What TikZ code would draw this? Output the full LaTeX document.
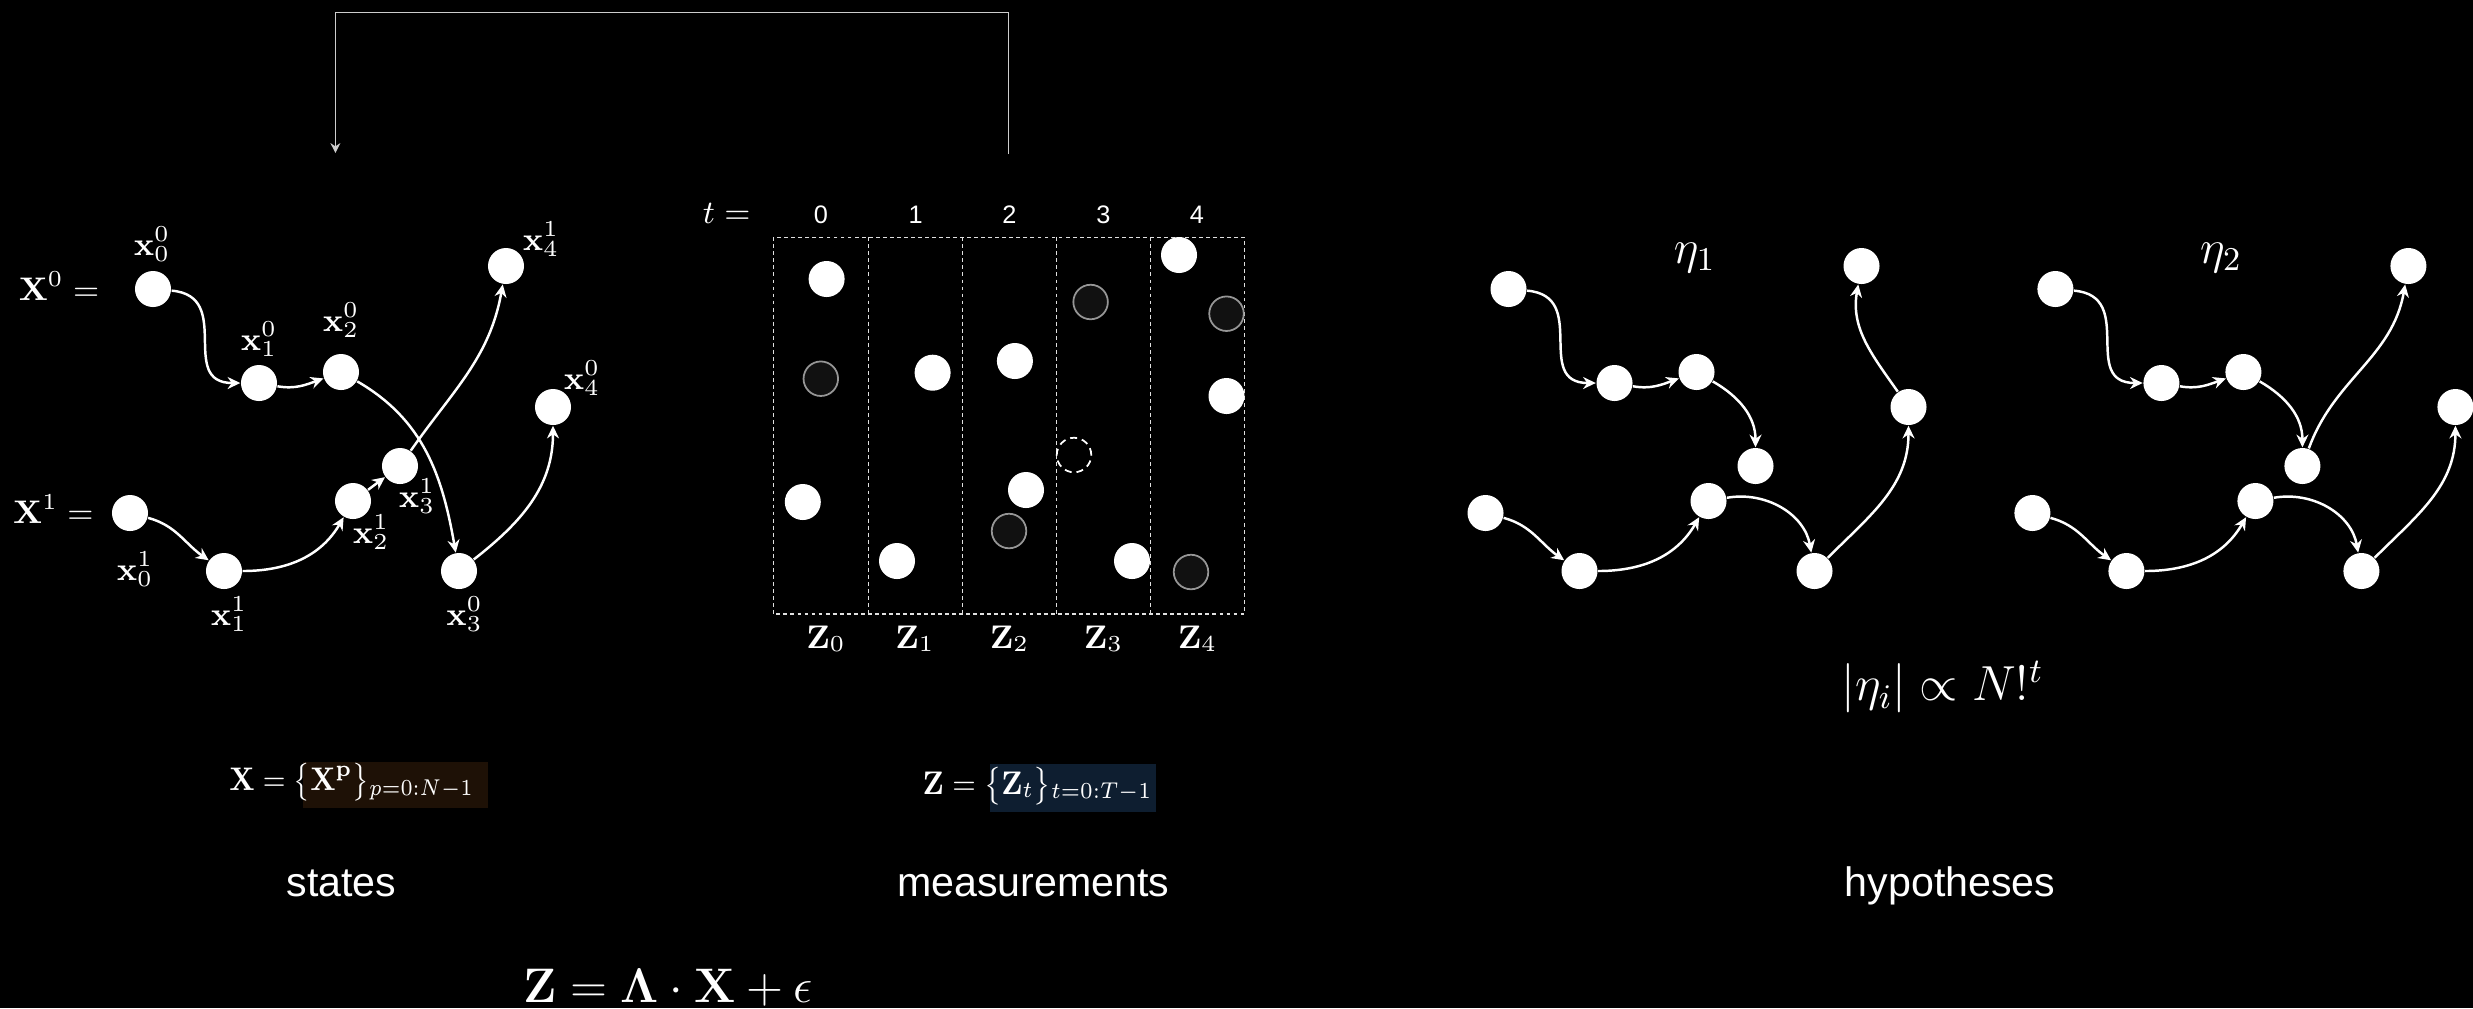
\RequirePackage{fix-cm}
\documentclass[tikz,border=0pt]{standalone}
\usepackage{amsmath}
\usepackage[no-math]{fontspec}
\setsansfont{Liberation Sans}
\usepackage{graphicx}
\usetikzlibrary{arrows.meta}
\definecolor{brownbg}{RGB}{30,17,6}
\definecolor{navybg}{RGB}{14,30,48}
\definecolor{fbline}{RGB}{205,205,205}
\definecolor{ghostfill}{RGB}{17,17,17}
\definecolor{ghostdraw}{RGB}{150,150,150}
\begin{document}
\begin{tikzpicture}[x=0.01cm,y=0.01cm,
  dot/.style={circle,fill=white,inner sep=0pt,minimum size=0.36cm},
  ghost/.style={circle,fill=ghostfill,draw=ghostdraw,line width=0.5pt,inner sep=0pt,minimum size=0.345cm},
  missing/.style={circle,draw=white,dash pattern=on 2pt off 1.4pt,line width=0.5pt,inner sep=0pt,minimum size=0.345cm},
  trk/.style={draw=white,line width=0.7pt,-{Stealth[length=3.6pt,width=3.4pt]}},
  fb/.style={draw=fbline,line width=0.4pt,-{Stealth[length=2.8pt,width=2.8pt]}},
  dashbox/.style={draw=white!88!black,line width=0.35pt,dash pattern=on 1.1pt off 0.9pt},
  lbl/.style={text=white,inner sep=0pt,font=\fontsize{9.3pt}{11pt}\selectfont},
  dig/.style={text=white,inner sep=0pt,font=\sffamily\fontsize{7.2pt}{9pt}\selectfont},
  word/.style={text=white,inner sep=0pt,font=\sffamily\fontsize{11.7pt}{14pt}\selectfont},
  eq/.style={text=white,inner sep=0pt,font=\fontsize{9.3pt}{12pt}\selectfont},
  bigeq/.style={text=white,inner sep=0pt,font=\fontsize{13.8pt}{16pt}\selectfont},
  etalbl/.style={text=white,inner sep=0pt,font=\fontsize{13.5pt}{16pt}\selectfont}
]
\fill[black] (0,0) rectangle (2473,-1008);
\useasboundingbox (0,0) rectangle (2473,-1008);

% ---------- feedback connector ----------
\coordinate (fbS) at (1008.7,-154);
\coordinate (fbE) at (335.4,-153);
\draw[fb] (fbS) -- ++(0,141.3) -| (fbE);

% ---------- states graph ----------
\node[lbl,anchor=base] (X0) at (59,-300) {$\mathbf{X}^0 =$};
\node[lbl,anchor=base] (X1) at (53.4,-523.3) {$\mathbf{X}^1 =$};

\node[dot] (a0) at (153,-289) {};
\node[dot] (a1) at (259,-383) {};
\node[dot] (a2) at (341,-372) {};
\node[dot] (a3) at (459,-571) {};
\node[dot] (a4) at (553,-407) {};
\node[dot] (b0) at (130,-513) {};
\node[dot] (b1) at (224,-571) {};
\node[dot] (b2) at (353,-501) {};
\node[dot] (b3) at (400,-466) {};
\node[dot] (b4) at (506,-266) {};

\node[lbl] (la0) at (152,-244) {$\mathbf{x}_0^0$};
\node[lbl] (la1) at (259,-339) {$\mathbf{x}_1^0$};
\node[lbl] (la2) at (341,-320) {$\mathbf{x}_2^0$};
\node[lbl] (la3) at (464.5,-614) {$\mathbf{x}_3^0$};
\node[lbl] (la4) at (582,-378) {$\mathbf{x}_4^0$};
\node[lbl] (lb0) at (135,-569) {$\mathbf{x}_0^1$};
\node[lbl] (lb1) at (229,-614) {$\mathbf{x}_1^1$};
\node[lbl] (lb2) at (371,-532.5) {$\mathbf{x}_2^1$};
\node[lbl] (lb3) at (417,-496.5) {$\mathbf{x}_3^1$};
\node[lbl] (lb4) at (541,-239) {$\mathbf{x}_4^1$};

\draw[trk] (a0) to[out=-5,in=180,looseness=1.4] (a1);
\draw[trk] (a1) to[out=-10,in=200] (a2);
\draw[trk] (a2) to[out=-30,in=100] (a3);
\draw[trk] (a3) to[out=38,in=-90] (a4);
\draw[trk] (b0) to[out=-15,in=145] (b1);
\draw[trk] (b1) to[out=0,in=-120] (b2);
\draw[trk] (b2) -- (b3);
\draw[trk] (b3) to[out=55,in=-100] (b4);

% ---------- measurements ----------
\node[lbl,anchor=base] (teq) at (726.7,-223) {$t =$};
\node[dig,anchor=base] (d0) at (821,-223.3) {0};
\node[dig,anchor=base] (d1) at (915.6,-223.3) {1};
\node[dig,anchor=base] (d2) at (1009.5,-223.3) {2};
\node[dig,anchor=base] (d3) at (1103.5,-223.3) {3};
\node[dig,anchor=base] (d4) at (1197,-223.3) {4};

\draw[dashbox] (773.3,-237.3) rectangle (1244.5,-614);
\foreach \xx in {868.3,962.7,1056.7,1150.7}
  \draw[dashbox] (\xx,-237.3) -- (\xx,-614);

\node[lbl,anchor=base] (z0) at (826,-648) {$\mathbf{Z}_0$};
\node[lbl,anchor=base] (z1) at (915,-648) {$\mathbf{Z}_1$};
\node[lbl,anchor=base] (z2) at (1009.5,-648) {$\mathbf{Z}_2$};
\node[lbl,anchor=base] (z3) at (1103.5,-648) {$\mathbf{Z}_3$};
\node[lbl,anchor=base] (z4) at (1197.5,-648) {$\mathbf{Z}_4$};

\node[dot] (m1) at (826.6,-279) {};
\node[ghost] (m2) at (820.8,-378.7) {};
\node[dot] (m3) at (802.8,-502) {};
\node[dot] (m4) at (932.6,-372.7) {};
\node[dot] (m5) at (897,-561) {};
\node[dot] (m6) at (1014.9,-361) {};
\node[dot] (m7) at (1026,-490) {};
\node[ghost] (m8) at (1009,-531) {};
\node[ghost] (m9) at (1090.6,-302) {};
\node[missing] (m10) at (1074,-455) {};
\node[dot] (m11) at (1132,-561) {};
\node[dot] (m12) at (1179,-255) {};
\node[ghost] (m13) at (1226.5,-313.7) {};
\node[dot] (m14) at (1226.5,-396) {};
\node[ghost] (m15) at (1191,-572) {};

% ---------- hypotheses ----------
\node[etalbl,anchor=base] (eta1) at (1694.7,-263) {$\eta_1$};
\node[etalbl,anchor=base] (eta2) at (2221,-263) {$\eta_2$};

\begin{scope}[shift={(1355.5,0)}]
\node[dot] (h1a0) at (153,-289) {};
\node[dot] (h1a1) at (259,-383) {};
\node[dot] (h1a2) at (341,-372) {};
\node[dot] (h1a3) at (459,-571) {};
\node[dot] (h1a4) at (553,-407) {};
\node[dot] (h1b0) at (130,-513) {};
\node[dot] (h1b1) at (224,-571) {};
\node[dot] (h1b2) at (353,-501) {};
\node[dot] (h1b3) at (400,-466) {};
\node[dot] (h1b4) at (506,-266) {};
\end{scope}
\draw[trk] (h1a0) to[out=-5,in=180,looseness=1.4] (h1a1);
\draw[trk] (h1a1) to[out=-10,in=200] (h1a2);
\draw[trk] (h1a2) to[out=-30,in=90] (h1b3);
\draw[trk] (h1b0) to[out=-15,in=145] (h1b1);
\draw[trk] (h1b1) to[out=0,in=-120] (h1b2);
\draw[trk] (h1b2) to[out=10,in=100] (h1a3);
\draw[trk] (h1a3) to[out=45,in=-90] (h1a4);
\draw[trk] (h1a4) to[out=125,in=-100] (h1b4);

\begin{scope}[shift={(1902.4,0)}]
\node[dot] (h2a0) at (153,-289) {};
\node[dot] (h2a1) at (259,-383) {};
\node[dot] (h2a2) at (341,-372) {};
\node[dot] (h2a3) at (459,-571) {};
\node[dot] (h2a4) at (553,-407) {};
\node[dot] (h2b0) at (130,-513) {};
\node[dot] (h2b1) at (224,-571) {};
\node[dot] (h2b2) at (353,-501) {};
\node[dot] (h2b3) at (400,-466) {};
\node[dot] (h2b4) at (506,-266) {};
\end{scope}
\draw[trk] (h2a0) to[out=-5,in=180,looseness=1.4] (h2a1);
\draw[trk] (h2a1) to[out=-10,in=200] (h2a2);
\draw[trk] (h2a2) to[out=-30,in=90] (h2b3);
\draw[trk] (h2b3) to[out=70,in=-100] (h2b4);
\draw[trk] (h2b0) to[out=-15,in=145] (h2b1);
\draw[trk] (h2b1) to[out=0,in=-120] (h2b2);
\draw[trk] (h2b2) to[out=10,in=100] (h2a3);
\draw[trk] (h2a3) to[out=45,in=-90] (h2a4);

% ---------- equations and captions ----------
\fill[brownbg] (303.3,-762.3) rectangle (488.3,-808.3);
\node[eq,anchor=base] (xeq) at (351.7,-790.7) {\scalebox{0.87}[1]{$\mathbf{X} = \smash{\bigl\{}\mathbf{X}^{\mathbf{p}}\smash{\bigr\}}_{p=0:N-1}$}};
\fill[navybg] (990,-764.3) rectangle (1156,-811.7);
\node[eq,anchor=base] (zeq) at (1037.5,-794.3) {\scalebox{0.9}[1]{$\mathbf{Z} = \smash{\bigl\{}\mathbf{Z}_t\smash{\bigr\}}_{t=0:T-1}$}};
\node[bigeq,anchor=base] (model) at (668.3,-1002.7) {$\mathbf{Z} = \mathbf{\Lambda}\cdot\mathbf{X} + \epsilon$};
\node[bigeq,anchor=base,font=\fontsize{14pt}{17pt}\selectfont] (card) at (1942.5,-700.8) {$|\eta_i| \propto N!^t$};

\node[word,anchor=base] (wstates) at (341.4,-896) {states};
\node[word,anchor=base] (wmeas) at (1033.3,-896) {measurements};
\node[word,anchor=base] (whyp) at (1950,-896) {hypotheses};
\end{tikzpicture}
\end{document}
